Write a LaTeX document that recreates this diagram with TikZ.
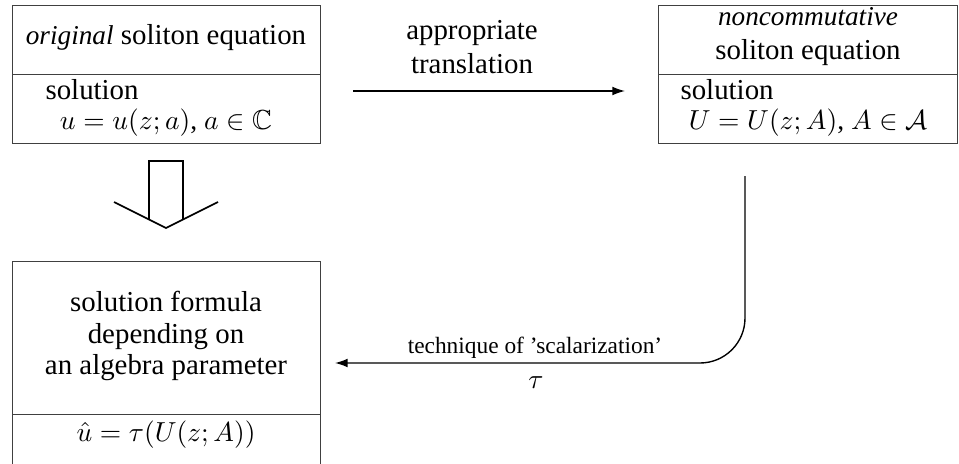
\documentclass[tikz,border=0pt]{standalone}
\usepackage[no-math]{fontspec}
\setmainfont{Liberation Serif}
\usepackage{amssymb}
\usetikzlibrary{arrows.meta,calc}

% one drawing unit
\newcommand\pxu{0.3636pt}
% narrower italic emphasis
\newcommand\emword[1]{{\fontsize{9.9}{12}\selectfont\itshape #1}}

\begin{document}
\begin{tikzpicture}[x=\pxu,y=-\pxu,
  boxpart/.style={draw=black!75, line width=0.44pt, anchor=north west, inner sep=0pt},
  lbl/.style={anchor=base, inner sep=0pt, font=\fontsize{10.5}{13}\selectfont},
  lblw/.style={lbl, anchor=base west},
  mathlbl/.style={anchor=base, inner sep=0pt, font=\fontsize{10}{12}\selectfont},
  small/.style={anchor=base, inner sep=0pt, font=\fontsize{8.5}{10}\selectfont},
  arr/.style={line width=0.5pt, -{Latex[length=4.6pt,width=3.2pt]}},
  bigarrow/.style={line width=0.58pt, line join=miter}]
\useasboundingbox (0,0) rectangle (959,464);

% original equation box
\node[boxpart, minimum width=308*\pxu, minimum height=69*\pxu] (b1top) at (12,5) {};
\node[boxpart, minimum width=308*\pxu, minimum height=69*\pxu] (b1bot) at (12,74) {};
\node[lbl] (t1a) at (166,45) {\emword{original} soliton equation};
\node[lblw] (t1b) at (45,99) {solution};
\node[mathlbl] (t1c) at (166,130) {$u=u(z;a)$, $a\in\mathbb{C}$};

% noncommutative equation box
\node[boxpart, minimum width=299*\pxu, minimum height=69*\pxu] (b2top) at (658,5) {};
\node[boxpart, minimum width=299*\pxu, minimum height=69*\pxu] (b2bot) at (658,74) {};
\node[lbl] (t2a) at (808,26) {\emword{noncommutative}};
\node[lbl] (t2b) at (808,60) {soliton equation};
\node[lblw] (t2c) at (680,99) {solution};
\node[mathlbl] (t2d) at (808,130) {$U=U(z;A)$, $A\in\mathcal{A}$};

% solution formula box
\node[boxpart, minimum width=308*\pxu, minimum height=153*\pxu] (b3top) at (12,261) {};
\node[boxpart, minimum width=308*\pxu, minimum height=51*\pxu] (b3bot) at (12,414) {};
\node[lbl] (t3a) at (166,311) {solution formula};
\node[lbl] (t3b) at (166,343) {depending on};
\node[lbl] (t3c) at (166,374) {an algebra parameter};
\node[mathlbl] (t3d) at (166,441) {$\hat{u}=\tau(U(z;A))$};

% translation arrow
\coordinate (trS) at (353,91);
\coordinate (trE) at (625,91);
\draw[arr] (trS) -- (trE);
\node[lbl] (trl1) at (472,40) {appropriate};
\node[lbl] (trl2) at (472,74) {translation};

% scalarization arrow
\coordinate (scS) at (745,176);
\coordinate (scE) at (335,363);
\draw[arr, rounded corners=45*\pxu] (scS) -- (scS |- scE) -- (scE);
\node[small] (scl1) at (535,353) {technique of 'scalarization'};
\node[mathlbl] (scl2) at (536,388) {$\tau$};

% implication arrow
\draw[bigarrow] (149,220) -- (149,161) -- (183,161) -- (183,220);
\draw[bigarrow] (114,202) -- (166,228) -- (218,202);
\end{tikzpicture}
\end{document}
